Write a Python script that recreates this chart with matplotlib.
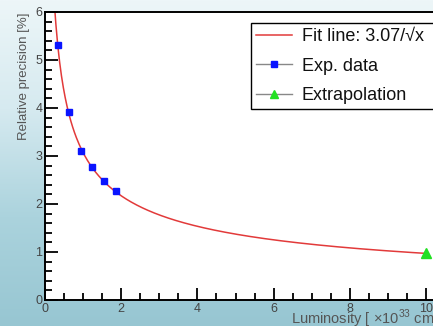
import numpy as np
import matplotlib
matplotlib.use("Agg")
import matplotlib.pyplot as plt
from matplotlib.lines import Line2D
from matplotlib.ticker import MultipleLocator
from matplotlib.colors import LinearSegmentedColormap

plt.rcParams['font.family'] = ['Liberation Sans', 'DejaVu Sans']
plt.rcParams['mathtext.fontset'] = 'custom'
plt.rcParams['mathtext.rm'] = 'Liberation Sans'

# data
lumi = [0.34, 0.64, 0.945, 1.24, 1.55, 1.86]
precision = [5.32, 3.91, 3.11, 2.78, 2.47, 2.27]
extrap_lumi = [10.0]
extrap_prec = [0.97]
fit_coef = 3.07

W, H = 433, 326
fig = plt.figure(figsize=(W / 100, H / 100), dpi=100)

# slide background gradient
bg = fig.add_axes([0, 0, 1, 1], zorder=-10)
cmap = LinearSegmentedColormap.from_list('bg', ['#edf6f8', '#d6eaf0', '#abd3dd', '#97c6d2'])
grad = np.linspace(0, 1, 256).reshape(-1, 1)
bg.imshow(grad, aspect='auto', cmap=cmap, extent=[0, 1, 1, 0])
bg.set_axis_off()

x0, x1 = 0, 10.3
px_per_x = 38.1
ax = fig.add_axes([45 / W, 26 / H, (x1 - x0) * px_per_x / W, 288 / H])
ax.set_facecolor('white')

xs = np.linspace((fit_coef / 6.0) ** 2, 10.0, 400)
ax.plot(xs, fit_coef / np.sqrt(xs), color='#e23a3a', lw=1.1, zorder=2)
ax.plot(lumi, precision, ls='none', marker='s', ms=5, color='#0a14ff', zorder=3)
ax.plot(extrap_lumi, extrap_prec, ls='none', marker='^', ms=6.5, color='#22e022', zorder=3)

ax.set_xlim(x0, x1)
ax.set_ylim(0, 6)
ax.xaxis.set_major_locator(MultipleLocator(2))
ax.xaxis.set_minor_locator(MultipleLocator(0.5))
ax.yaxis.set_major_locator(MultipleLocator(1))
ax.yaxis.set_minor_locator(MultipleLocator(0.2))
ax.tick_params(which='both', direction='in', top=False, right=False,
               labelsize=9, labelcolor='#444444', width=1.3)
ax.tick_params(which='major', length=9, pad=2)
ax.tick_params(which='minor', length=5)
for s in ax.spines.values():
    s.set_linewidth(1.4)

fig.text(24 / W, 1 - 12 / H, 'Relative precision [%]', rotation=90,
         ha='center', va='top', fontsize=9.5, color='#555555')
fig.text(291 / W, -4 / H, r'Luminosity [ $\times$10$^{33}$ cm$^{-2}$s$^{-1}$]',
         ha='left', va='bottom', fontsize=10.5, color='#555555')

handles = [
    Line2D([], [], color='#e23a3a', lw=1.1),
    Line2D([], [], color='#888888', lw=1, marker='s', ms=4, mfc='#0a14ff', mec='#0a14ff'),
    Line2D([], [], color='#888888', lw=1, marker='^', ms=6, mfc='#22e022', mec='#22e022'),
]
labels = ['Fit line: 3.07/\u221ax', 'Exp. data', 'Extrapolation']
leg = fig.legend(handles, labels, loc='upper left', mode='expand',
                 bbox_to_anchor=(251 / W, 1 - 23 / H, 200 / W, 0), fontsize=13,
                 frameon=True, fancybox=False, edgecolor='black', framealpha=1,
                 borderpad=0.3, labelspacing=0.68, handlelength=1.95,
                 handletextpad=0.55, borderaxespad=0)
leg.get_frame().set_linewidth(1.0)
for t in leg.get_texts():
    t.set_color('#111111')

fig.savefig('out.png', dpi=100)
